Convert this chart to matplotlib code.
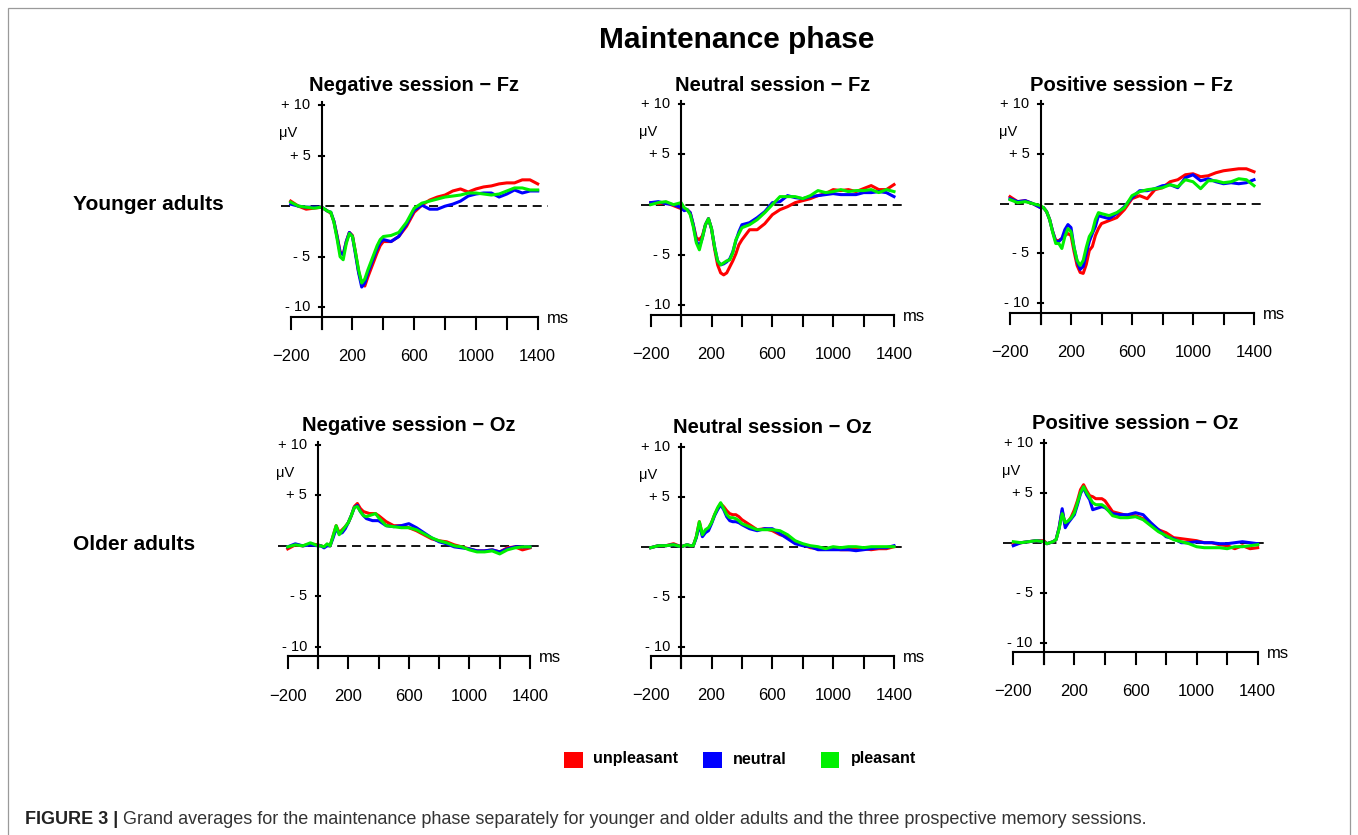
import numpy as np
import matplotlib
matplotlib.use('Agg')
import matplotlib.pyplot as plt
from matplotlib.patches import Rectangle

plt.rcParams['font.family'] = ['Liberation Sans', 'DejaVu Sans']

# time grid (ms), shared by all panels
times = [-200, -150, -100, -50,
         0, 20, 40, 60, 80, 100, 120, 140, 160, 180, 200, 220, 240, 260, 280, 300,
         320, 340, 360, 380, 400,
         450, 500, 550, 600, 650, 700, 750, 800, 850, 900, 950, 1000, 1050, 1100,
         1150, 1200, 1250, 1300, 1350, 1400]

conditions = ['unpleasant', 'neutral', 'pleasant']
cond_colors = ['#ff0000', '#0000ff', '#00f000']

titles = ['Negative session \u2212 Fz', 'Neutral session \u2212 Fz', 'Positive session \u2212 Fz',
          'Negative session \u2212 Oz', 'Neutral session \u2212 Oz', 'Positive session \u2212 Oz']
row_labels = ['Younger adults', 'Older adults']

xtick_vals = [-200, 200, 600, 1000, 1400]
xtick_labels = ['\u2212200', '200', '600', '1000', '1400']
ytick_vals = [10, 5, -5, -10]
ytick_labels = ['+ 10', '+ 5', '- 5', '- 10']

# Negative session - Fz (younger)
neg_fz_unpl = [0.5, 0.0, -0.3, -0.2,
               -0.1, -0.3, -0.5, -0.7, -1.5, -2.9, -4.5, -4.8, -3.5, -2.6, -2.9, -4.6, -6.5, -7.6, -7.9, -7.0,
               -6.2, -5.4, -4.6, -3.9, -3.5,
               -3.5, -3.0, -2.0, -0.6, 0.1, 0.6, 0.9, 1.1, 1.5, 1.7, 1.4, 1.7, 1.9, 2.0, 2.2, 2.3, 2.3, 2.6, 2.6, 2.2]
neg_fz_neut = [0.2, 0.0, -0.1, -0.1,
               -0.1, -0.3, -0.5, -0.6, -1.5, -3.0, -4.6, -4.8, -3.5, -2.6, -3.0, -4.8, -6.6, -8.0, -7.6, -6.6,
               -5.8, -5.0, -4.2, -3.6, -3.3,
               -3.5, -3.0, -1.8, -0.4, 0.1, -0.3, -0.3, 0.0, 0.2, 0.5, 1.0, 1.2, 1.3, 1.3, 0.9, 1.2, 1.6, 1.3, 1.5, 1.5]
neg_fz_pleas = [0.4, 0.0, -0.1, -0.2,
                -0.1, -0.3, -0.5, -0.6, -1.6, -3.2, -5.0, -5.3, -3.7, -2.7, -3.0, -4.6, -6.3, -7.6, -7.2, -6.3,
                -5.5, -4.7, -3.9, -3.3, -3.0,
                -2.9, -2.6, -1.6, -0.2, 0.3, 0.5, 0.7, 0.9, 1.0, 1.1, 1.3, 1.3, 1.2, 1.1, 1.2, 1.5, 1.8, 1.8, 1.6, 1.6]

# Neutral session - Fz (younger)
neu_fz_unpl = [0.2, 0.1, 0.2, -0.1,
               -0.4, -0.5, -0.5, -0.8, -2.0, -3.3, -3.5, -3.1, -2.0, -1.4, -2.4, -4.4, -6.0, -6.8, -7.0, -6.8,
               -6.2, -5.6, -4.9, -4.0, -3.5,
               -2.5, -2.5, -1.9, -1.0, -0.5, -0.2, 0.2, 0.4, 0.6, 0.9, 1.1, 1.5, 1.4, 1.5, 1.3, 1.6, 1.9, 1.5, 1.5, 2.0]
neu_fz_neut = [0.2, 0.3, 0.1, 0.0,
               -0.3, -0.6, -0.5, -0.8, -2.0, -3.6, -4.2, -3.3, -2.0, -1.4, -2.4, -4.2, -5.6, -6.0, -5.9, -5.7,
               -5.4, -4.7, -3.6, -2.7, -2.0,
               -1.8, -1.3, -0.7, 0.2, 0.3, 0.9, 0.7, 0.6, 0.8, 0.9, 1.0, 1.1, 1.0, 1.0, 1.0, 1.2, 1.2, 1.3, 1.2, 0.8]
neu_fz_pleas = [0.0, 0.2, 0.3, 0.0,
                0.2, -0.3, -0.5, -1.0, -2.2, -3.8, -4.5, -3.3, -2.0, -1.4, -2.4, -4.2, -5.6, -6.0, -5.8, -5.6,
                -5.5, -4.8, -3.5, -2.9, -2.3,
                -2.0, -1.5, -0.8, 0.0, 0.8, 0.8, 0.8, 0.6, 0.9, 1.4, 1.2, 1.3, 1.5, 1.3, 1.4, 1.4, 1.5, 1.2, 1.5, 1.3]

# Positive session - Fz (younger)
pos_fz_unpl = [0.7, 0.2, 0.3, 0.0,
               -0.4, -0.4, -0.8, -1.6, -2.8, -3.7, -3.7, -3.5, -3.2, -3.0, -3.2, -4.8, -6.2, -6.9, -7.0, -6.1,
               -4.7, -4.3, -3.2, -2.5, -2.0,
               -1.7, -1.4, -0.6, 0.5, 0.8, 0.5, 1.4, 1.6, 2.2, 2.4, 2.9, 3.0, 2.7, 2.8, 3.1, 3.3, 3.4, 3.5, 3.5, 3.2]
pos_fz_neut = [0.5, 0.2, 0.3, 0.0,
               -0.4, -0.4, -0.8, -1.6, -2.8, -3.8, -3.8, -3.5, -2.6, -2.1, -2.4, -4.4, -5.8, -6.6, -6.3, -5.0,
               -3.8, -3.0, -2.3, -1.2, -1.3,
               -1.5, -1.0, -0.3, 0.6, 1.3, 1.3, 1.5, 1.8, 1.9, 1.6, 2.6, 2.9, 2.3, 2.5, 2.2, 2.0, 2.1, 2.0, 2.1, 2.4]
pos_fz_pleas = [0.4, 0.1, 0.2, 0.0,
                -0.2, -0.4, -0.8, -1.6, -2.9, -4.0, -4.0, -4.5, -3.3, -2.5, -2.8, -4.4, -5.7, -6.2, -5.7, -4.4,
                -3.3, -2.8, -1.6, -0.9, -1.0,
                -1.2, -0.9, -0.4, 0.8, 1.2, 1.4, 1.5, 1.6, 1.9, 1.7, 2.4, 2.2, 1.5, 2.3, 2.3, 2.1, 2.2, 2.5, 2.4, 1.8]

# Negative session - Oz (older)
neg_oz_unpl = [-0.3, 0.1, 0.0, 0.2,
               0.1, 0.0, -0.1, 0.1, 0.0, 1.0, 2.0, 1.3, 1.6, 1.9, 2.3, 3.0, 3.9, 4.2, 3.7, 3.4,
               3.3, 3.2, 3.2, 3.2, 3.0,
               2.4, 2.0, 2.0, 1.8, 1.5, 1.1, 0.7, 0.5, 0.4, 0.1, -0.1, -0.3, -0.5, -0.5, -0.4, -0.6, -0.2, -0.1, -0.4, -0.2]
neg_oz_neut = [-0.1, 0.2, 0.0, 0.1,
               0.0, 0.0, -0.2, 0.0, 0.0, 0.8, 1.7, 1.2, 1.3, 1.7, 2.3, 3.0, 3.8, 4.0, 3.4, 3.0,
               2.7, 2.6, 2.5, 2.5, 2.5,
               2.0, 1.9, 2.0, 2.2, 1.8, 1.3, 0.8, 0.4, 0.2, -0.1, -0.2, -0.3, -0.5, -0.5, -0.4, -0.6, -0.3, -0.1, -0.1, -0.1]
neg_oz_pleas = [-0.1, 0.1, 0.0, 0.3,
                0.0, 0.0, -0.1, 0.2, 0.0, 1.0, 2.0, 1.1, 1.5, 1.9, 2.3, 3.0, 3.8, 3.9, 3.4, 3.0,
                2.9, 3.0, 3.1, 3.2, 2.8,
                2.0, 1.9, 1.8, 1.8, 1.6, 1.2, 0.8, 0.5, 0.3, 0.0, -0.1, -0.4, -0.6, -0.6, -0.5, -0.8, -0.4, -0.2, -0.1, -0.1]

# Neutral session - Oz (older)
neu_oz_unpl = [-0.1, 0.1, 0.1, 0.3,
               0.0, 0.1, 0.2, 0.1, 0.1, 1.0, 2.5, 1.2, 1.6, 1.8, 2.4, 3.2, 3.8, 4.3, 4.0, 3.6,
               3.3, 3.2, 3.2, 3.0, 2.7,
               2.2, 1.7, 1.8, 1.6, 1.2, 1.0, 0.5, 0.2, -0.1, -0.2, -0.2, -0.2, -0.3, -0.3, -0.2, -0.2, -0.3, -0.2, -0.2, 0.0]
neu_oz_neut = [-0.1, 0.1, 0.1, 0.2,
               0.0, 0.1, 0.2, 0.1, 0.1, 0.9, 2.2, 1.0, 1.4, 1.6, 2.3, 3.1, 3.7, 4.2, 3.7, 3.0,
               2.6, 2.5, 2.5, 2.4, 2.2,
               1.8, 1.6, 1.8, 1.8, 1.3, 0.8, 0.3, 0.1, 0.0, -0.3, -0.3, -0.3, -0.3, -0.3, -0.4, -0.3, -0.2, -0.1, -0.1, 0.1]
neu_oz_pleas = [-0.1, 0.1, 0.1, 0.2,
                0.0, 0.1, 0.2, 0.1, 0.1, 1.0, 2.5, 1.2, 1.7, 1.9, 2.4, 3.2, 3.9, 4.4, 3.8, 3.2,
                2.9, 2.9, 2.8, 2.6, 2.3,
                2.0, 1.7, 1.7, 1.7, 1.6, 1.2, 0.6, 0.3, 0.1, 0.0, -0.2, 0.0, -0.1, 0.0, 0.0, -0.1, 0.0, 0.0, 0.0, 0.0]

# Positive session - Oz (older)
pos_oz_unpl = [-0.2, 0.0, 0.1, 0.2,
               0.2, -0.1, 0.0, 0.1, 0.3, 1.5, 3.2, 1.8, 2.1, 2.6, 3.3, 4.2, 5.3, 5.8, 5.2, 4.7,
               4.6, 4.4, 4.4, 4.4, 4.2,
               3.1, 2.9, 2.7, 2.7, 2.4, 1.8, 1.3, 1.0, 0.5, 0.4, 0.3, 0.2, 0.0, 0.0, -0.2, -0.3, -0.6, -0.3, -0.6, -0.5]
pos_oz_neut = [-0.3, 0.0, 0.1, 0.2,
               0.1, -0.1, 0.0, 0.1, 0.3, 1.5, 3.4, 1.5, 2.0, 2.4, 2.8, 3.8, 4.9, 5.5, 4.8, 4.3,
               3.3, 3.4, 3.5, 3.6, 3.5,
               2.9, 2.8, 2.8, 3.0, 2.8, 2.0, 1.3, 0.6, 0.4, 0.0, 0.0, 0.1, 0.0, 0.0, -0.1, -0.1, 0.0, 0.1, 0.0, -0.1]
pos_oz_pleas = [0.1, 0.0, 0.1, 0.2,
                0.1, -0.1, 0.0, 0.1, 0.3, 1.4, 2.9, 2.0, 2.2, 2.5, 3.0, 4.0, 5.0, 5.6, 5.0, 4.5,
                4.0, 3.8, 3.8, 3.8, 3.6,
                2.7, 2.5, 2.5, 2.6, 2.3, 1.7, 1.1, 0.7, 0.3, 0.1, -0.1, -0.4, -0.5, -0.5, -0.5, -0.6, -0.4, -0.4, -0.3, -0.2]

panel_data = [
    [neg_fz_unpl, neg_fz_neut, neg_fz_pleas],
    [neu_fz_unpl, neu_fz_neut, neu_fz_pleas],
    [pos_fz_unpl, pos_fz_neut, pos_fz_pleas],
    [neg_oz_unpl, neg_oz_neut, neg_oz_pleas],
    [neu_oz_unpl, neu_oz_neut, neu_oz_pleas],
    [pos_oz_unpl, pos_oz_neut, pos_oz_pleas],
]

W, H = 1358, 835
fig = plt.figure(figsize=(W / 100, H / 100), dpi=100)

# panel boxes in pixels: left (-200 ms), right (1400 ms), top (+10), bottom (-10)
boxes = [
    (290.7, 537.7, 105.0, 307.3),
    (650.7, 894.0, 104.3, 305.0),
    (1010.0, 1254.0, 104.0, 303.3),
    (287.7, 530.0, 445.0, 646.7),
    (650.7, 894.0, 446.7, 646.7),
    (1013.3, 1257.7, 442.7, 642.7),
]

lw_axis = 1.5
for i, (L, R, T, B) in enumerate(boxes):
    ax = fig.add_axes([L / W, 1 - B / H, (R - L) / W, (B - T) / H])
    ax.set_xlim(-200, 1400)
    ax.set_ylim(-10, 10)
    ax.axis('off')

    # zero line
    ax.plot([-265, 1465], [0, 0], color='black', lw=1.3, linestyle=(0, (5, 3.2)), clip_on=False)

    # curves
    for vals, c in zip(panel_data[i], cond_colors):
        ax.plot(times, vals, color=c, lw=2.2, clip_on=False, solid_joinstyle='round')

    # y axis
    ax.plot([0, 0], [10.3, -12.1], color='black', lw=lw_axis, clip_on=False)
    for v, lab in zip(ytick_vals, ytick_labels):
        ax.plot([-16, 16], [v, v], color='black', lw=lw_axis, clip_on=False)
        ax.text(-72, v, lab, ha='right', va='center', fontsize=10.5, clip_on=False)
    ax.text(-275, 7.2, '\u03bcV', ha='left', va='center', fontsize=10.5)

    # x axis
    ax.plot([-200, 1400], [-10.95, -10.95], color='black', lw=lw_axis, clip_on=False)
    for t in range(-200, 1401, 200):
        ax.plot([t, t], [-10.95, -12.1], color='black', lw=lw_axis, clip_on=False)
    for t, lab in zip(xtick_vals, xtick_labels):
        ax.text(t, -14.9, lab, ha='center', va='center', fontsize=12)
    ax.text(1458, -11.1, 'ms', ha='left', va='center', fontsize=12)

    ax.text(600, 11.9, titles[i], ha='center', va='center', fontsize=14.5, fontweight='bold')

fig.text(737 / W, 1 - 40 / H, 'Maintenance phase', ha='center', va='center',
         fontsize=21.5, fontweight='bold')
fig.text(73 / W, 1 - 204 / H, row_labels[0], ha='left', va='center', fontsize=15, fontweight='bold')
fig.text(73 / W, 1 - 544 / H, row_labels[1], ha='left', va='center', fontsize=15, fontweight='bold')

# legend
sq_left = [564, 703.3, 820.7]
txt_left = [592.7, 732.7, 850.7]
for c, lab, sx, tx in zip(cond_colors, conditions, sq_left, txt_left):
    fig.add_artist(Rectangle((sx / W, 1 - 768.3 / H), 18.5 / W, 16.6 / H,
                             transform=fig.transFigure, color=c, lw=0))
    fig.text(tx / W, 1 - 759 / H, lab, ha='left', va='center', fontsize=11.5, fontweight='bold')

# caption
cap1 = fig.text(25 / W, 1 - 819 / H, 'FIGURE 3 |', ha='left', va='center',
                fontsize=13, fontweight='bold', color='#222222')
fig.canvas.draw()
bb = cap1.get_window_extent(renderer=fig.canvas.get_renderer())
fig.text((bb.x1 + 5) / W, 1 - 819 / H,
         'Grand averages for the maintenance phase separately for younger and older adults '
         'and the three prospective memory sessions.',
         ha='left', va='center', fontsize=13, color='#333333')

# outer frame
fig.add_artist(Rectangle((8 / W, -0.05), (1350 - 8) / W, 1.05 - 8 / H,
                         transform=fig.transFigure, fill=False, ec='#9a9a9a', lw=0.9))

fig.savefig('out.png', dpi=100)
